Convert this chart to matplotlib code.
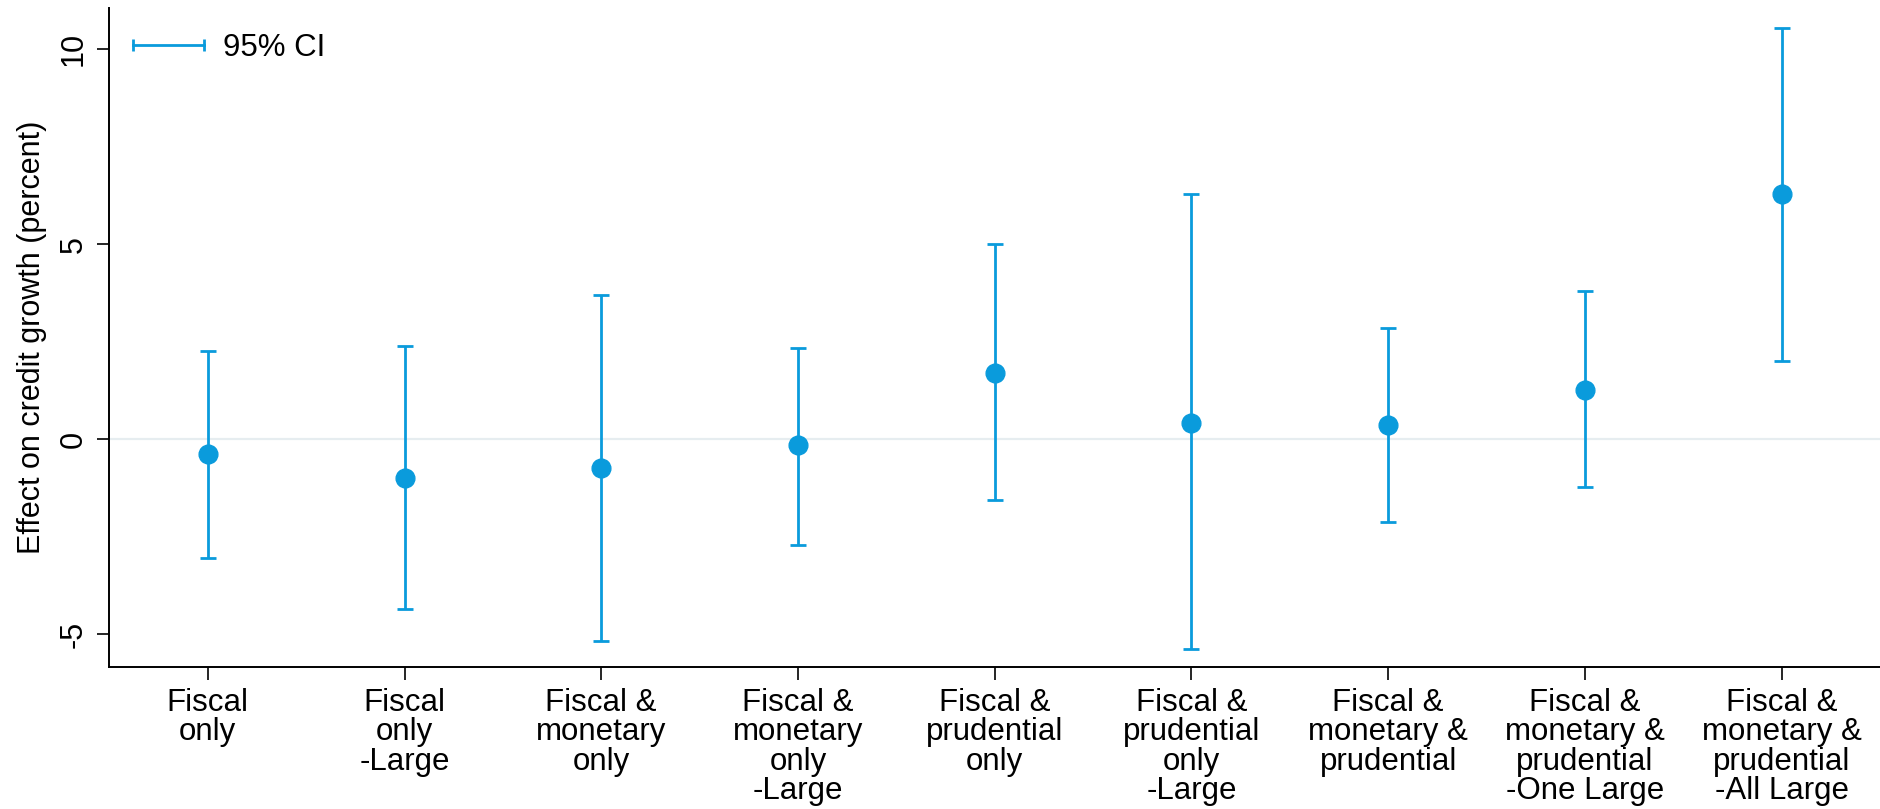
import numpy as np
import matplotlib
matplotlib.use("Agg")
import matplotlib.pyplot as plt
from matplotlib.lines import Line2D

plt.rcParams['font.family'] = ['Liberation Sans', 'DejaVu Sans']

# policy mix categories and estimated effects with 95% confidence bounds
categories = ['Fiscal\nonly', 'Fiscal\nonly\n-Large', 'Fiscal &\nmonetary\nonly',
              'Fiscal &\nmonetary\nonly\n-Large', 'Fiscal &\nprudential\nonly',
              'Fiscal &\nprudential\nonly\n-Large', 'Fiscal &\nmonetary &\nprudential',
              'Fiscal &\nmonetary &\nprudential\n-One Large',
              'Fiscal &\nmonetary &\nprudential\n-All Large']
effect = [-0.37, -0.98, -0.74, -0.15, 1.69, 0.43, 0.37, 1.26, 6.29]
ci_low = [-3.04, -4.36, -5.18, -2.70, -1.56, -5.37, -2.12, -1.23, 2.02]
ci_high = [2.27, 2.39, 3.71, 2.33, 5.00, 6.29, 2.85, 3.80, 10.55]

blue = '#0a9bdc'

fig = plt.figure(figsize=(18.8, 8.09), dpi=100)
ax = fig.add_axes([0.0582, 0.1755, 0.9418, 0.8145])

x = np.arange(len(categories))
eff = np.array(effect)
yerr = np.vstack([eff - np.array(ci_low), np.array(ci_high) - eff])

ax.axhline(0, color='#e6edf0', lw=1.6, zorder=0)
ax.errorbar(x, eff, yerr=yerr, fmt='none', ecolor=blue, elinewidth=2.0,
            capsize=5.8, capthick=2.0, zorder=2)
ax.plot(x, eff, 'o', color=blue, markersize=13.5, zorder=3)

ax.set_xlim(-0.5, len(categories) - 0.5)
ax.set_ylim(-5.84, 11.06)
ax.set_yticks([-5, 0, 5, 10])
ax.set_yticklabels(['-5', '0', '5', '10'], rotation=90, va='center', fontsize=22)
ax.set_xticks(x)
ax.set_xticklabels(categories, fontsize=22.5, linespacing=0.98)
ax.set_ylabel('Effect on credit growth (percent)', fontsize=22, labelpad=8)

for side in ['top', 'right']:
    ax.spines[side].set_visible(False)
for side in ['left', 'bottom']:
    ax.spines[side].set_linewidth(1.4)
ax.tick_params(axis='both', length=9, width=1.2, pad=6)

# legend key: horizontal line capped at both ends
handle = Line2D([], [], color=blue, lw=2.0, marker='|', markersize=9,
                markeredgewidth=2.0)
ax.legend([handle], ['95% CI'], loc='center left', numpoints=2, frameon=False,
          fontsize=22.5, handlelength=2.87, handletextpad=0.3,
          borderpad=0, borderaxespad=0, bbox_to_anchor=(0.008, 0.94))

plt.savefig('out.png', dpi=100)
